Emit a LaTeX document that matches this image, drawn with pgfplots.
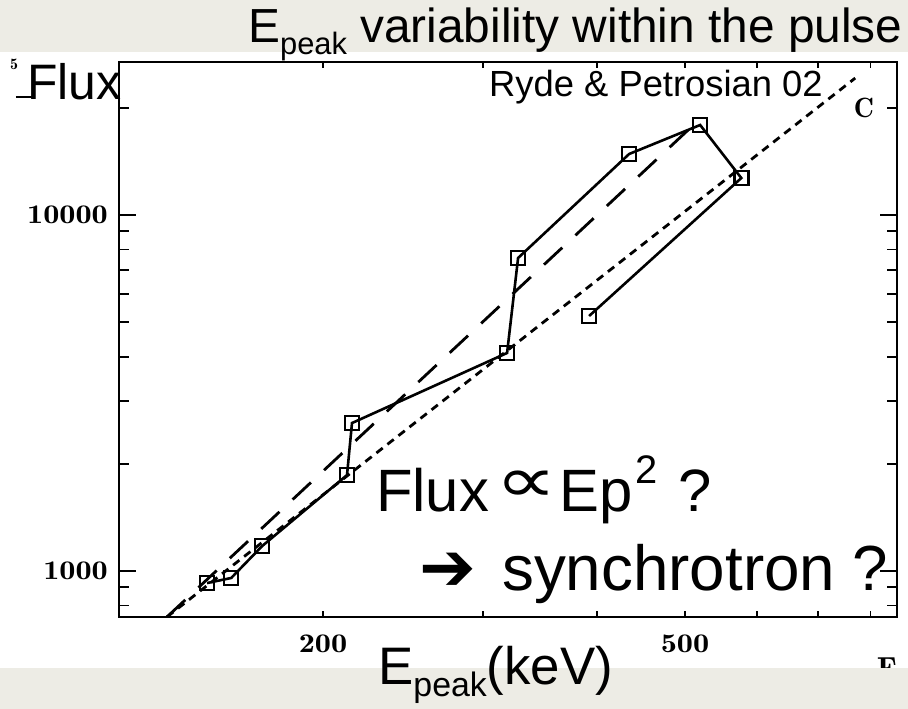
\documentclass[border=0pt]{standalone}
\usepackage{fontspec}
\setmainfont{Liberation Sans}
\newfontfamily\dejavu{DejaVu Sans}
\usepackage{graphicx}
\usepackage{pgfplots}
\pgfplotsset{compat=1.18}
\definecolor{band}{RGB}{237,236,229}
\newcommand\fs[1]{\fontsize{#1}{#1}\selectfont}
\newcommand\tl[1]{\scalebox{1.2}[1]{\fontfamily{lmr}\bfseries\fs{27}#1}}

\begin{document}
\begin{tikzpicture}
% background, image coordinates (px, y down)
\begin{scope}[x=1bp,y=-1bp,shift={(-119bp,617bp)}]
  \fill[white] (0,0) rectangle (908,709);
  \fill[band] (0,0) rectangle (908,52);
  \fill[band] (0,668) rectangle (908,709);
\end{scope}

\begin{axis}[
  at={(0,0)}, anchor=south west, scale only axis,
  width=778bp, height=555bp,
  xmode=log, ymode=log,
  xmin=119.3, xmax=855.4, ymin=742.9, ymax=26900,
  axis line style={line width=2bp},
  tick style={black, line width=1.8bp},
  tick align=inside,
  xtick={200,500}, xticklabels={\tl{200},\tl{500}},
  minor xtick={300,400,600,700,800},
  ytick={1000,10000}, yticklabels={\tl{1000},\tl{10000}},
  minor ytick={800,900,2000,3000,4000,5000,6000,7000,8000,9000,20000},
  xtick style={/pgfplots/major tick length=6bp,/pgfplots/minor tick length=6bp},
  ytick style={/pgfplots/major tick length=17bp,/pgfplots/minor tick length=10bp},
  xticklabel style={anchor=center, inner sep=0pt, yshift=-27bp},
  yticklabel style={anchor=east, inner sep=0pt, xshift=-11bp},
]
% Flux proportional to Ep^2 (short dashes)
\addplot[black, line width=2.8bp, dash pattern=on 8bp off 6bp]
  coordinates {(134.7,743) (769.6,24240)};
% fit (long dashes)
\addplot[black, line width=2.8bp, dash pattern=on 25bp off 18bp]
  coordinates {(134.7,743) (506.8,17556)};
% pulse track
\addplot[black, line width=2.6bp, mark=square, mark size=7bp,
  mark options={solid, line width=2.4bp}]
  coordinates {(149.1,925) (158.5,956) (171.4,1175) (212.5,1860) (215.2,2604)
               (318.7,4097) (327.7,7573) (434.1,14836) (519.6,17898)
               (576.7,12700) (392.3,5203)};
\end{axis}

\begin{scope}[x=1bp,y=-1bp,shift={(-119bp,617bp)}]
  \node[anchor=base west, inner sep=0pt] at (248,43)
    {\fs{48}E\raisebox{-12bp}{\fs{31}peak} variability within the pulse};
  \node[anchor=base west, inner sep=0pt] at (27,100) {\fs{50}Flux};
  \node[anchor=base west, inner sep=0pt] at (489,97) {\fs{36.5}Ryde \& Petrosian 02};
  % Flux ∝ Ep^2 ?
  \node[anchor=base west, inner sep=0pt] at (376,512) {\fs{60}Flux};
  \node[anchor=base, inner sep=0pt] at (526,503) {\scalebox{1.4}[1.05]{\dejavu\fs{62}∝}};
  \node[anchor=base west, inner sep=0pt] at (559,512) {\fs{60}Ep};
  \node[anchor=base west, inner sep=0pt] at (635,484) {\fs{40}2};
  \node[anchor=base west, inner sep=0pt] at (678,512) {\fs{60}?};
  % -> synchrotron ?
  \node[anchor=base west, inner sep=0pt] at (419,591) {\dejavu\fs{68}➔};
  \node[anchor=base west, inner sep=0pt] at (502,591) {\fs{64}synchrotron ?};
  \node[anchor=base west, inner sep=0pt] at (378,685)
    {\fs{53}E\raisebox{-12bp}{\fs{34}peak}(keV)};
  \node[anchor=center, inner sep=0pt] at (864,108) {\fontfamily{lmr}\bfseries\fs{28}C};
  \node[anchor=center, inner sep=0pt] at (14,64) {\fontfamily{lmr}\bfseries\fs{16}5};
  \draw[line width=1.6bp] (16,97) -- (34,97);
  \begin{scope}
    \clip (870,640) rectangle (908,668);
    \node[anchor=base, inner sep=0pt] at (887,680) {\fontfamily{lmr}\bfseries\fs{32}F};
  \end{scope}
\end{scope}
\pgfresetboundingbox
\path[use as bounding box] (-119bp,-92bp) rectangle (789bp,617bp);
\end{tikzpicture}
\end{document}
